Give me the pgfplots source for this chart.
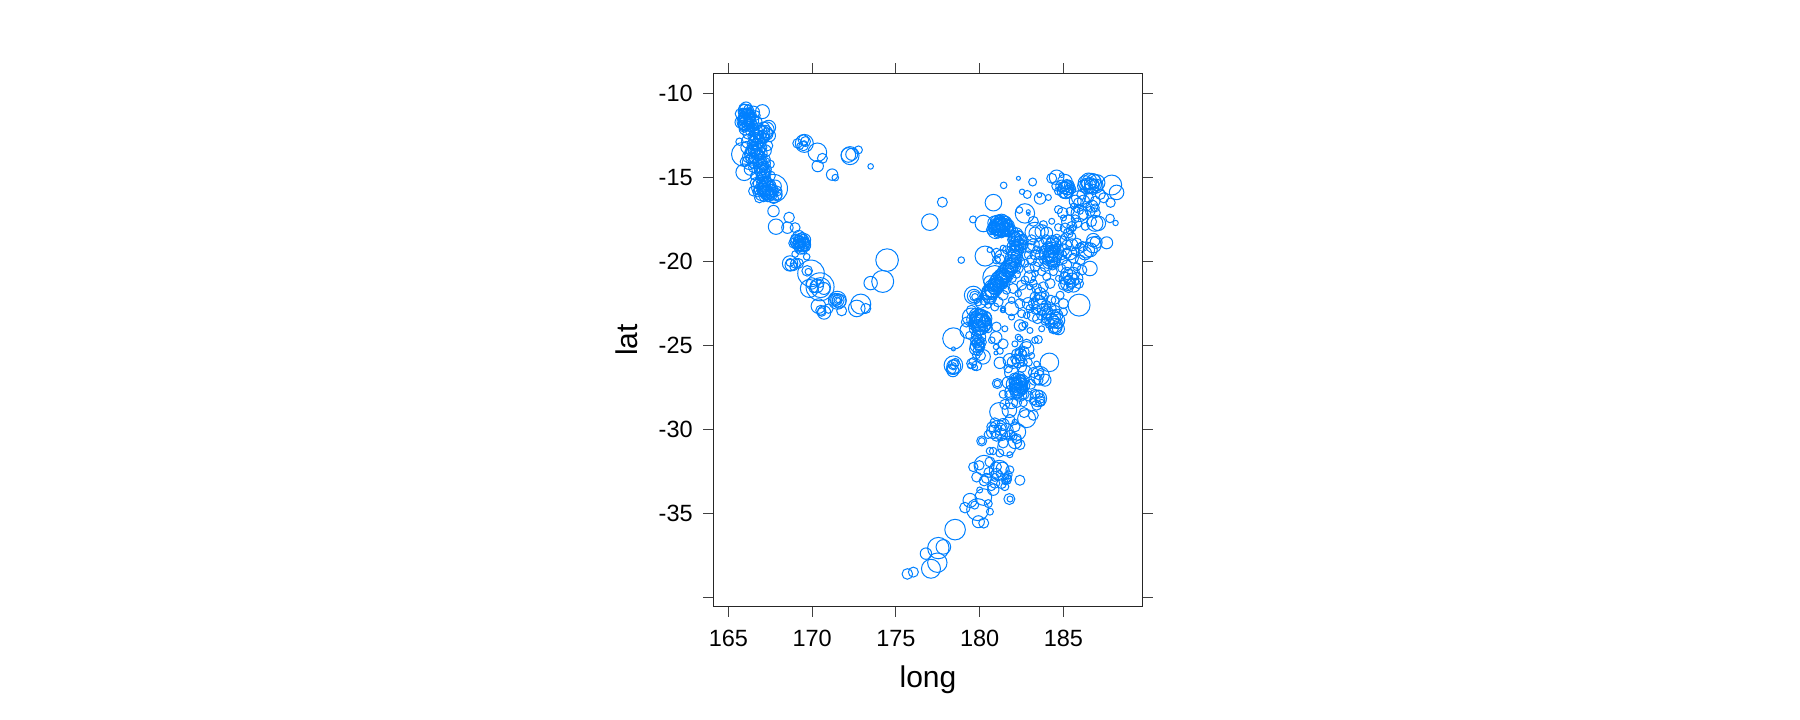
\documentclass[border=0pt]{standalone}
\usepackage{pgfplots}
\pgfplotsset{compat=1.18}
\usepackage{fontspec}
\setmainfont{Liberation Sans}
\definecolor{pt}{HTML}{0080FF}
\begin{document}
\begin{tikzpicture}[x=1pt,y=1pt]
\path[use as bounding box] (-713.2,-113.3) rectangle (1086.8,606.7);
\begin{axis}[
  scale only axis, width=429.5pt, height=533.5pt,
  xmin=164.09, xmax=189.73, ymin=-40.55, ymax=-8.78,
  axis line style={line width=1pt,black!85},
  tick style={line width=1pt,black!75},
  tick align=outside, major tick length=10pt,
  xtick={165,170,175,180,185}, xticklabels={165,170,175,180,185},
  ytick={-40,-35,-30,-25,-20,-15,-10},
  yticklabels={,{-35},{-30},{-25},{-20},{-15},{-10}},
  xtick pos=both, ytick pos=both, xticklabel pos=lower, yticklabel pos=lower,
  tick label style={font=\fontsize{23.5}{27}\selectfont},
  xticklabel style={yshift=-10pt},
  yticklabel style={xshift=-7pt},
  xlabel={long}, ylabel={lat},
  every axis x label/.style={at={(rel axis cs:0.5,0)},anchor=base,yshift=-81pt,font=\fontsize{30}{34}\selectfont},
  every axis y label/.style={at={(rel axis cs:0,0.5)},anchor=base,rotate=90,yshift=76pt,font=\fontsize{30}{34}\selectfont},
  clip=false,
]
\addplot[scatter, only marks, mark=o, line width=1pt, scatter src=y,
  scatter/use mapped color={draw=pt,fill=none},
  visualization depends on={\thisrow{r}\as\rad},
  scatter/@pre marker code/.append style={/tikz/mark size=\rad}]
 table[x=x,y=y,row sep=crcr]{
x y r\\
165.9 -10.9 5\\ 166.05 -10.85 6\\ 166.2 -10.95 5\\ 165.85 -11.1 4\\ 166.0 -11.05 7\\ 166.3 -11.2 4\\ 166.15 -11.2 6\\ 165.9 -11.35 5\\
166.1 -11.4 8\\ 166.35 -11.4 5\\ 165.95 -11.6 6\\ 166.2 -11.55 4\\ 166.05 -11.65 9\\ 166.3 -11.7 6\\ 166.1 -11.8 5\\ 165.9 -11.85 5\\
166.25 -11.95 5\\ 166.05 -12.0 4\\ 166.45 -11.6 6\\ 166.5 -11.85 4\\ 166.6 -11.3 5\\ 167.03 -11.07 7\\ 165.66 -12.86 3.7\\ 165.9 -13.61 12\\
165.94 -14.68 8.3\\ 166.0 -14.05 5\\ 166.0 -12.1 6\\ 166.3 -12.2 5\\ 166.55 -12.3 5\\ 166.8 -12.1 6\\ 167.1 -12.05 6\\ 167.2 -12.3 7\\
167.3 -12.4 6\\ 167.0 -12.36 8\\ 166.9 -12.6 6\\ 166.6 -12.6 5\\ 166.4 -12.55 4\\ 167.15 -12.65 5\\ 166.75 -12.45 5\\ 166.5 -13.1 5\\
166.7 -13.0 6\\ 166.95 -12.95 5\\ 166.4 -13.35 6\\ 166.6 -13.3 7\\ 166.85 -13.3 6\\ 167.0 -13.2 5\\ 166.3 -13.55 5\\ 166.5 -13.6 9\\
166.7 -13.6 6\\ 166.95 -13.55 6\\ 166.55 -13.85 5\\ 166.8 -13.8 7\\ 166.4 -13.9 6\\ 166.75 -14.1 5\\ 167.0 -14.0 5\\ 166.9 -14.3 7\\
167.1 -14.3 5\\ 167.2 -14.5 6\\ 166.9 -14.55 6\\ 167.05 -14.7 7\\ 167.25 -14.7 5\\ 166.95 -14.9 5\\ 167.15 -15.0 6\\ 166.85 -15.1 4\\
167.05 -15.25 5\\ 166.85 -15.35 6\\ 167.1 -15.4 7\\ 167.3 -15.35 6\\ 166.85 -15.55 8\\ 167.05 -15.6 6\\ 167.3 -15.55 9\\ 167.55 -15.5 5\\
167.69 -15.64 14\\ 167.0 -15.8 5\\ 167.2 -15.8 6\\ 167.45 -15.8 7\\ 167.7 -15.85 5\\ 166.95 -16.0 6\\ 167.2 -16.0 5\\ 167.4 -16.05 6\\
167.6 -16.05 5\\ 167.85 -16.0 6\\ 167.95 -16.1 4\\ 166.85 -16.2 5\\ 167.1 -16.2 4\\ 167.35 -16.2 4\\ 167.7 -16.25 5\\ 167.9 -15.8 5\\
166.0 -11.2 5\\ 166.15 -11.5 7\\ 166.25 -11.3 6\\ 165.85 -11.55 4\\ 166.1 -11.1 4\\ 166.0 -11.8 7\\ 166.2 -11.75 5\\ 165.75 -11.7 6\\ 165.95 -12.0 5\\ 166.35 -12.05 4\\ 166.7 -12.55 7\\ 166.9 -12.3 7\\ 167.25 -12.15 8\\ 166.5 -12.8 5\\ 166.8 -12.85 6\\ 167.05 -12.55 6\\ 166.35 -13.0 4\\ 166.55 -13.4 6\\ 166.75 -13.45 7\\ 166.2 -13.75 6\\ 166.65 -14.0 8\\ 166.85 -13.65 5\\ 166.95 -14.15 5\\ 167.15 -14.15 6\\ 167.0 -14.45 6\\ 167.1 -14.85 6\\ 166.9 -15.7 6\\ 167.15 -15.65 7\\ 167.4 -15.65 7\\ 167.25 -15.2 5\\ 167.5 -15.95 5\\ 167.8 -15.5 6\\ 166.75 -15.85 5\\ 167.3 -15.9 7\\ 167.6 -15.75 6\\
165.7 -11.2 5\\ 166.5 -11.1 6\\ 166.65 -11.7 6\\ 167.4 -12.0 7\\ 167.45 -12.5 6\\ 166.15 -12.4 5\\ 166.2 -12.85 7\\ 166.1 -13.2 6\\ 166.25 -14.1 7\\ 166.3 -14.5 6\\ 166.5 -14.4 5\\ 166.55 -14.9 4\\ 166.6 -15.3 5\\ 166.5 -15.8 5\\ 167.5 -14.9 5\\ 167.5 -14.2 4\\ 167.2 -13.4 6\\ 167.2 -13.9 5\\ 167.35 -13.1 5\\
167.69 -16.99 5.7\\ 168.62 -17.37 5.3\\ 167.84 -17.92 7.7\\ 168.52 -17.98 5.7\\ 168.98 -17.98 5\\
169.12 -12.96 4.7\\ 169.48 -12.76 5.3\\ 169.53 -12.96 9\\ 169.48 -13.12 4.7\\ 169.28 -13.12 3.3\\ 169.52 -12.96 2.7\\ 169.6 -12.85 5\\
170.31 -13.49 9.3\\ 170.61 -13.85 5\\ 170.33 -14.31 5.7\\ 171.19 -14.82 5.7\\ 171.38 -15.0 3.3\\ 172.26 -13.69 9\\ 172.36 -13.61 6\\ 172.16 -13.65 7.3\\
172.76 -13.35 4\\ 173.49 -14.33 2.8\\ 177.02 -17.65 8.3\\ 177.77 -16.46 5\\
168.9 -18.9 5\\ 169.0 -18.65 5\\ 169.2 -18.5 6\\ 169.4 -18.55 5\\ 169.55 -18.7 6\\ 169.1 -18.8 7\\ 169.3 -18.75 7\\ 169.5 -18.9 6\\
169.65 -18.9 4\\ 169.0 -19.0 4\\ 169.2 -19.0 6\\ 169.4 -19.0 7\\ 169.6 -19.1 5\\ 169.3 -19.2 6\\ 169.45 -19.25 5\\ 169.2 -18.65 4\\ 169.35 -18.9 5\\
169.25 -18.85 6\\ 169.15 -18.95 5\\ 169.45 -18.75 6\\ 169.3 -19.05 5\\ 169.55 -19.0 6\\
168.68 -20.11 7.7\\ 168.72 -20.2 5.7\\ 168.68 -20.05 4\\ 169.18 -20.11 5\\ 168.98 -19.55 3.3\\ 169.67 -19.71 3.3\\ 168.9 -20.3 4\\ 169.0 -20.1 5\\
169.93 -20.7 13.3\\ 169.7 -20.55 5.3\\ 169.77 -20.6 3.3\\ 169.83 -21.6 9\\ 170.47 -21.5 14\\ 170.5 -21.55 10\\ 169.97 -21.3 5.7\\ 170.27 -21.46 6.7\\
170.07 -21.6 4.3\\ 170.47 -21.3 4\\ 170.7 -21.6 6\\ 171.5 -22.3 9\\ 171.5 -22.3 6.7\\ 171.5 -22.3 5\\ 171.5 -22.3 3.3\\ 171.55 -22.3 2.4\\
171.4 -22.25 6\\ 171.6 -22.35 7\\ 171.76 -22.93 5\\ 170.37 -22.65 7.3\\ 170.51 -22.9 5\\ 170.71 -23.03 6.7\\ 170.57 -23.0 4.3\\ 170.97 -22.8 4.7\\
172.9 -22.53 10\\ 172.66 -22.79 8.3\\ 173.2 -22.79 5\\ 173.49 -21.28 6.7\\ 174.21 -21.18 11\\ 174.47 -19.91 11.3\\
181.43 -15.46 3.3\\ 182.31 -15.04 2\\ 183.16 -15.26 4\\ 182.53 -15.84 2.7\\ 182.84 -16.0 4\\ 183.6 -16.24 5.7\\ 183.56 -16.04 2.4\\ 184.1 -16.18 3\\
180.82 -16.49 8.3\\ 179.6 -17.49 3.5\\ 178.9 -19.91 3.3\\ 182.7 -17.13 9.7\\ 182.37 -16.93 3.3\\ 182.9 -17.03 2\\ 182.9 -17.17 1.7\\
184.3 -15.04 5\\ 184.59 -14.98 7.3\\ 184.9 -14.85 2.4\\ 185.09 -15.24 7.3\\ 184.6 -15.5 5\\ 184.9 -15.5 6\\ 185.2 -15.6 7\\ 185.35 -15.45 5\\ 185.1 -15.75 8\\
185.3 -15.9 5\\ 185.0 -16.0 4\\ 184.7 -15.8 4\\ 185.5 -15.7 4\\ 185.2 -15.4 5\\ 185.05 -15.6 6\\ 185.25 -15.75 5\\ 185.15 -15.9 6\\ 185.4 -15.6 5\\
186.68 -15.34 10\\ 186.3 -15.3 7\\ 186.5 -15.2 8\\ 186.8 -15.2 7\\ 187.0 -15.3 8\\ 186.2 -15.5 6\\ 186.45 -15.5 8\\ 186.7 -15.5 7\\ 186.95 -15.5 7\\ 186.6 -15.35 6\\ 186.35 -15.4 5\\ 186.85 -15.4 5\\ 186.5 -15.65 5\\ 186.8 -15.7 5\\
187.88 -15.44 10\\ 188.17 -15.88 7.3\\ 187.78 -17.43 4.3\\ 188.11 -17.7 2.7\\ 187.81 -16.49 4.7\\ 186.88 -17.72 8\\ 187.08 -17.72 7.3\\ 186.68 -17.62 5\\
186.1 -16.0 5\\ 185.9 -16.2 7\\ 186.2 -16.4 6\\ 185.7 -16.4 6\\ 185.9 -16.5 5\\ 186.5 -16.2 5\\ 186.9 -16.4 5\\ 187.2 -16.0 5\\ 186.7 -16.7 6\\ 186.4 -16.75 4\\ 186.9 -16.8 4\\ 187.4 -16.2 5\\ 186.6 -17.0 5\\ 186.9 -17.1 5\\ 186.2 -17.2 5\\ 185.6 -16.7 3\\ 185.4 -17.0 4\\ 184.7 -16.9 4\\ 185.0 -17.4 3\\ 185.7 -17.45 4\\ 186.3 -17.9 4\\ 185.8 -17.7 5\\
185.95 -17.13 8.3\\ 184.95 -17.09 5.3\\ 185.29 -17.63 6.7\\ 185.5 -17.9 5\\ 184.69 -17.96 3.7\\ 185.55 -18.0 3.3\\ 185.29 -18.3 5\\ 185.8 -16.9 3\\ 186.0 -17.0 3\\ 185.1 -18.0 5\\ 185.4 -18.15 4\\ 185.05 -18.5 3\\ 185.5 -18.5 4\\ 184.6 -18.6 4\\ 184.9 -18.75 5\\ 185.2 -19.0 5\\ 185.0 -19.3 6\\ 185.5 -19.0 6\\ 184.9 -19.6 5\\ 185.2 -19.5 5\\ 185.0 -19.9 4\\ 185.6 -19.8 5\\ 186.0 -19.9 5\\ 185.8 -20.3 4\\ 185.2 -20.2 5\\ 184.9 -20.4 4\\
181.21 -17.82 8\\ 180.9 -17.7 7\\ 181.1 -17.7 8\\ 181.3 -17.65 8\\ 181.5 -17.7 7\\ 180.85 -17.95 6\\ 181.05 -17.95 8\\ 181.25 -17.95 9\\ 181.5 -17.9 8\\ 181.7 -17.85 6\\
180.95 -18.15 8\\ 181.2 -18.15 6\\ 181.4 -18.1 7\\ 181.6 -18.1 7\\ 181.85 -18.05 5\\ 181.1 -18.3 5\\ 181.3 -18.35 4\\ 181.15 -17.85 6\\ 181.35 -17.85 6\\ 180.22 -17.73 8.3\\ 180.7 -18.1 5\\
181.0 -17.85 7\\ 181.4 -17.75 8\\ 181.6 -17.95 7\\ 181.1 -18.05 7\\ 181.3 -18.05 8\\ 181.5 -18.2 5\\ 181.75 -18.15 5\\ 180.9 -18.05 6\\ 181.2 -17.6 6\\
182.0 -18.2 5\\ 182.2 -18.35 6\\ 182.05 -18.5 6\\ 182.3 -18.6 7\\ 182.1 -18.7 6\\ 182.45 -18.8 6\\ 182.2 -18.9 7\\ 182.4 -19.0 6\\ 182.25 -19.15 6\\ 182.5 -19.2 5\\
182.35 -18.45 5\\ 182.15 -18.55 5\\ 182.55 -18.65 5\\ 182.3 -18.8 5\\ 182.1 -19.05 5\\ 182.35 -19.3 5\\ 182.6 -19.0 5\\ 182.0 -19.1 6\\ 181.9 -18.7 4\\ 181.9 -19.35 5\\
183.3 -18.3 6\\ 183.3 -18.25 10\\ 183.7 -18.2 6.7\\ 183.1 -18.7 5\\ 183.0 -19.2 5\\ 182.9 -19.6 4\\ 183.1 -19.9 5\\ 183.4 -19.3 4\\ 183.5 -20.0 5\\ 183.3 -19.6 5\\ 183.6 -19.6 5\\ 182.7 -20.1 4\\ 182.95 -20.4 5\\ 183.3 -20.3 5\\
183.2 -17.6 5\\ 183.8 -17.8 4\\ 184.3 -17.6 3\\ 184.0 -18.3 6\\ 183.95 -18.7 5\\ 183.2 -19.0 6\\ 183.55 -18.9 5\\ 183.7 -20.6 4\\ 183.0 -20.9 6\\ 182.5 -21.4 5\\ 183.2 -21.3 4\\ 182.0 -21.6 5\\ 181.4 -22.0 5\\ 181.9 -22.8 7\\ 181.1 -22.4 5\\ 181.6 -21.7 4\\ 182.4 -22.5 5\\ 182.9 -22.5 6\\ 182.5 -23.1 4\\ 181.9 -23.3 3\\ 182.3 -24.5 3\\ 181.5 -24.0 3\\ 181.4 -24.9 5\\ 182.1 -24.9 3\\ 182.4 -24.6 3\\ 183.0 -24.1 3\\ 183.7 -24.0 3\\
184.3 -19.7 6\\ 184.2 -19.4 6\\ 184.4 -19.4 6\\ 184.0 -19.6 7\\ 184.5 -19.6 7\\ 184.2 -19.8 8\\ 184.4 -19.9 7\\ 184.1 -20.05 6\\ 184.35 -20.2 5\\ 184.4 -19.0 8\\ 184.55 -18.9 5\\ 184.25 -18.9 5\\ 184.1 -19.1 5\\ 184.6 -19.15 4\\ 184.3 -19.2 6\\ 183.8 -19.3 4\\ 183.8 -19.9 4\\
184.25 -19.55 7\\ 184.4 -19.7 8\\ 184.15 -19.65 6\\ 184.5 -19.3 5\\ 184.3 -19.95 6\\ 184.5 -20.05 5\\ 184.05 -19.25 6\\ 184.35 -18.8 6\\
187.58 -18.88 6\\ 186.78 -18.72 6.7\\ 186.78 -19.0 8\\ 186.38 -19.31 8\\ 186.28 -19.5 6.7\\ 185.39 -19.5 6.7\\ 186.58 -20.41 7.3\\ 185.8 -18.9 5\\ 185.7 -19.4 4\\ 186.0 -19.2 5\\ 186.6 -19.3 7\\ 186.95 -18.85 6\\ 186.15 -19.1 5\\
180.32 -19.67 10\\ 181.3 -19.7 6.7\\ 181.0 -19.5 5\\ 180.6 -19.3 2.7\\ 181.6 -19.3 4\\ 181.4 -19.2 3\\ 181.2 -19.85 5\\ 181.0 -19.9 4\\
182.2 -19.3 6\\ 182.1 -19.5 7\\ 182.2 -19.7 6\\ 182.0 -19.8 8\\ 182.1 -20.0 6\\ 181.9 -20.0 7\\ 182.0 -20.2 8\\ 181.8 -20.2 7\\ 181.7 -20.4 8\\ 181.9 -20.4 6\\
181.6 -20.5 7\\ 181.5 -20.7 8\\ 181.7 -20.6 6\\ 181.4 -20.8 7\\ 181.3 -20.9 8\\ 181.5 -20.9 7\\ 181.2 -21.1 9\\ 181.1 -21.2 6\\ 181.3 -21.1 7\\ 181.0 -21.3 8\\
180.9 -21.4 7\\ 181.1 -21.4 6\\ 180.8 -21.6 9\\ 180.7 -21.7 7\\ 180.9 -21.6 6\\ 180.6 -21.8 8\\ 180.5 -21.9 6\\ 180.7 -21.9 6\\ 180.4 -22.0 5\\ 180.6 -22.1 7\\ 180.9 -20.95 12\\ 180.6 -21.2 6\\ 181.4 -21.4 4\\ 181.6 -21.2 4\\
182.05 -19.65 6\\ 181.95 -20.2 7\\ 181.85 -20.35 7\\ 181.75 -20.5 7\\ 181.55 -20.6 8\\ 181.6 -20.8 7\\ 181.35 -20.95 7\\ 181.25 -21.0 7\\ 181.15 -21.05 8\\ 181.05 -21.35 7\\ 180.95 -21.5 8\\ 180.85 -21.5 7\\ 180.75 -21.75 7\\ 180.55 -21.95 8\\ 182.3 -20.4 5\\ 182.2 -20.75 4\\ 181.95 -21.0 4\\ 182.4 -20.0 5\\
179.62 -22.0 9\\ 179.66 -22.05 6.7\\ 179.7 -22.05 5\\ 179.72 -22.1 3.3\\ 179.9 -22.4 4\\ 180.3 -22.3 5\\ 180.05 -22.5 5\\ 180.5 -22.6 3\\ 180.9 -22.7 4\\ 181.4 -22.8 2.4\\ 180.7 -22.3 4\\
185.93 -22.59 11\\ 185.39 -20.9 7\\ 185.2 -20.7 6\\ 185.6 -20.7 6\\ 185.1 -21.0 6\\ 185.5 -21.1 7\\ 185.8 -21.0 6\\ 185.25 -21.3 7\\ 185.6 -21.4 7\\ 185.9 -21.3 5\\ 185.0 -21.4 5\\ 185.3 -21.55 5\\ 186.1 -20.5 5\\ 185.45 -21.3 5\\ 185.3 -21.1 5\\
183.2 -21.0 2\\ 181.91 -22.3 3.3\\ 181.41 -22.9 2.4\\ 182.8 -21.9 9\\ 182.3 -21.9 3.3\\ 183.6 -21.9 6\\ 183.4 -21.6 5\\ 183.8 -21.5 5\\ 183.3 -22.1 5\\ 183.7 -22.2 6\\ 183.5 -22.4 7\\ 183.9 -22.0 4\\ 183.95 -22.6 5\\ 183.2 -22.5 5\\ 183.6 -22.7 8\\
183.35 -22.85 5\\ 183.0 -22.8 4\\ 183.8 -22.85 6\\ 184.0 -23.0 6\\ 183.7 -23.2 5\\ 183.45 -23.4 5\\ 183.9 -23.55 4\\ 183.2 -23.2 6\\ 184.25 -22.3 5\\ 184.5 -22.3 4\\ 185.0 -22.5 5\\ 184.8 -22.0 4\\ 185.0 -23.0 4\\
184.4 -23.3 7\\ 184.2 -22.8 6\\ 184.5 -22.9 5\\ 184.1 -23.1 6\\ 184.6 -23.2 6\\ 184.3 -23.5 7\\ 184.6 -23.5 8\\ 184.2 -23.7 5\\ 184.5 -23.8 7\\ 184.7 -24.0 6\\ 184.4 -24.0 5\\ 184.0 -23.4 5\\ 184.7 -23.7 5\\ 184.45 -23.6 6\\ 184.55 -23.95 6\\
182.7 -21.1 4\\ 183.3 -20.7 3.3\\ 184.0 -20.9 4\\ 184.2 -21.3 5\\ 184.7 -21.0 3\\ 183.0 -21.5 3\\ 183.9 -20.3 5\\ 184.4 -20.6 4\\
180.02 -23.59 9\\ 179.8 -23.2 7\\ 180.1 -23.2 6\\ 179.7 -23.45 8\\ 179.95 -23.4 9\\ 180.25 -23.4 8\\ 179.75 -23.7 7\\ 180.05 -23.75 10\\ 180.3 -23.7 7\\ 179.85 -23.95 8\\ 180.1 -24.0 6\\ 179.95 -23.55 7\\ 180.1 -23.5 7\\ 179.9 -23.8 6\\ 179.5 -23.3 9\\ 179.2 -23.6 5\\ 179.3 -24.1 8\\ 179.5 -22.9 5\\ 180.4 -23.3 5\\ 180.5 -24.0 4\\ 179.4 -24.4 4\\
180.0 -23.3 8\\ 179.85 -23.55 8\\ 180.15 -23.65 9\\ 179.95 -23.95 7\\ 180.2 -23.5 7\\ 179.8 -23.35 6\\
178.43 -24.58 10.7\\ 178.43 -25.2 2\\ 179.92 -24.88 6\\ 179.8 -24.4 5\\ 180.0 -24.5 6\\ 179.75 -24.7 5\\ 180.1 -24.8 5\\ 179.85 -25.0 7\\ 180.0 -25.1 5\\ 179.9 -25.3 5\\ 179.8 -25.55 4\\ 180.05 -25.6 5\\ 179.95 -24.7 5\\ 179.85 -24.85 5\\ 179.95 -25.0 5\\ 179.75 -25.2 6\\
181.0 -23.88 4.7\\ 180.97 -24.52 6\\ 180.72 -24.68 3.3\\ 180.97 -25.08 2.7\\ 181.21 -25.32 3.3\\ 181.2 -26.03 5.7\\ 180.97 -25.44 2\\ 181.37 -22.89 2.4\\
178.43 -26.17 9.3\\ 178.45 -26.25 7\\ 178.43 -26.15 5\\ 178.43 -26.2 3\\ 178.4 -26.5 6\\ 178.3 -26.4 5\\ 178.55 -26.0 4\\
179.52 -26.07 5\\ 179.6 -25.95 4\\ 179.82 -26.2 5\\ 180.2 -25.67 7.3\\ 179.7 -26.3 3\\ 179.45 -26.2 3\\
181.05 -27.26 5\\ 181.05 -27.26 3.3\\ 182.4 -23.8 5.7\\ 182.56 -23.85 4\\ 182.7 -23.75 3\\ 182.8 -23.2 3.3\\
183.5 -24.64 4\\ 183.3 -24.68 3.3\\ 182.8 -24.9 4.7\\ 182.8 -25.2 7.3\\ 182.4 -25.77 5\\ 182.2 -25.5 5\\ 182.55 -25.45 4\\ 182.3 -25.95 6\\ 182.6 -26.0 4\\ 182.5 -25.2 3\\
182.65 -25.35 5\\ 182.45 -25.55 6\\ 182.35 -25.35 4\\ 182.15 -25.8 5\\ 182.0 -26.0 6\\ 182.5 -26.3 5\\
181.8 -25.87 6.7\\ 181.7 -26.37 4.3\\ 182.7 -26.57 6.7\\ 184.16 -26.0 9.3\\ 183.63 -26.56 3.3\\ 183.6 -26.8 9.3\\ 183.9 -27.06 6\\ 183.5 -27.06 4.7\\ 183.2 -26.6 5\\ 183.3 -27.0 6\\ 183.55 -26.75 5\\ 183.05 -27.3 5\\
181.7 -27.2 6\\ 181.9 -26.6 7\\ 181.4 -27.9 4\\ 181.5 -28.5 5\\ 181.9 -28.4 6\\ 182.2 -28.4 5\\ 182.6 -28.4 4\\ 182.9 -28.0 5\\ 182.9 -26.0 4\\ 183.1 -25.6 3\\ 183.4 -26.1 3\\
182.31 -27.36 8\\ 182.1 -27.0 6\\ 182.35 -26.9 6\\ 182.55 -27.1 6\\ 182.0 -27.3 7\\ 182.2 -27.3 6\\ 182.45 -27.35 7\\ 182.7 -27.4 5\\ 182.1 -27.6 6\\ 182.35 -27.6 7\\ 182.55 -27.65 5\\ 182.2 -27.85 6\\ 182.4 -27.9 7\\ 182.65 -27.9 5\\ 181.9 -27.75 6.7\\ 181.8 -27.95 5\\
182.25 -27.15 8\\ 182.4 -27.2 7\\ 182.3 -27.5 8\\ 182.15 -27.4 6\\ 182.5 -27.5 6\\ 182.25 -27.7 7\\ 182.05 -27.2 5\\ 182.4 -27.05 6\\
183.5 -28.15 8.3\\ 183.6 -28.15 5\\ 183.4 -28.55 5\\ 183.55 -27.9 4\\ 183.3 -27.9 5\\ 183.7 -28.4 3.3\\ 183.2 -28.3 4\\ 183.6 -28.3 5\\
181.15 -28.95 9.3\\ 181.77 -28.85 7.3\\ 182.65 -28.99 5\\ 182.8 -29.35 9\\ 183.2 -29.15 5\\ 182.1 -29.55 2.7\\
181.11 -29.98 9\\ 181.21 -29.98 6\\ 181.13 -29.94 3.3\\ 180.8 -30.14 6.7\\ 180.72 -29.84 5\\ 182.25 -30.14 8.3\\ 181.81 -30.34 5\\ 182.11 -30.74 6.7\\ 182.11 -29.84 5\\ 181.6 -30.04 6.7\\ 180.12 -30.68 5\\ 180.12 -30.68 3.3\\ 181.4 -30.8 5\\ 181.61 -31.04 9\\ 182.0 -30.4 4\\ 182.2 -30.55 5\\ 180.8 -31.28 3.7\\
180.9 -29.6 5\\ 181.4 -29.7 6\\ 180.5 -30.3 4\\ 181.0 -30.4 5\\ 181.3 -30.3 6\\ 181.8 -29.4 5\\ 182.4 -30.9 5\\ 181.8 -31.5 3\\ 181.2 -31.4 4\\
175.68 -38.6 5.3\\ 176.04 -38.49 5\\ 177.09 -38.29 9.5\\ 177.47 -37.93 9.7\\ 176.79 -37.39 5.7\\ 177.53 -37.06 10.7\\ 177.83 -36.99 7.3\\ 178.53 -35.96 10.3\\
179.92 -35.49 6\\ 180.24 -35.57 5\\ 180.61 -34.89 3.5\\ 179.88 -34.77 11\\ 179.12 -34.65 5.3\\ 179.42 -34.22 7\\ 180.22 -34.02 8.3\\ 180.51 -34.41 4\\ 180.81 -33.58 5.7\\ 181.77 -34.14 5.5\\ 181.81 -34.14 3\\ 182.4 -33.02 5\\
181.6 -32.98 5\\ 181.65 -32.9 4\\ 181.6 -33.05 3\\ 181.55 -32.8 3\\ 181.7 -32.7 4\\ 181.5 -33.1 3\\ 181.3 -33.22 5\\ 181.17 -32.43 10\\ 180.26 -33.06 5\\ 179.82 -32.83 5\\ 179.62 -32.23 4.7\\ 179.98 -32.13 4.7\\ 180.26 -32.13 10\\ 180.61 -31.28 3.7\\ 180.61 -31.93 5\\ 180.9 -32.85 4\\ 181.17 -32.63 3.3\\ 181.0 -32.23 5\\ 180.7 -33.4 4\\
181.0 -32.6 5\\ 181.35 -32.3 6\\ 180.55 -32.55 5\\ 180.4 -32.9 5\\ 181.8 -32.4 4\\ 181.5 -33.4 4\\ 180.9 -33.2 5\\ 180.0 -33.6 3\\ 179.7 -34.5 4\\
};
\end{axis}
\end{tikzpicture}
\end{document}
